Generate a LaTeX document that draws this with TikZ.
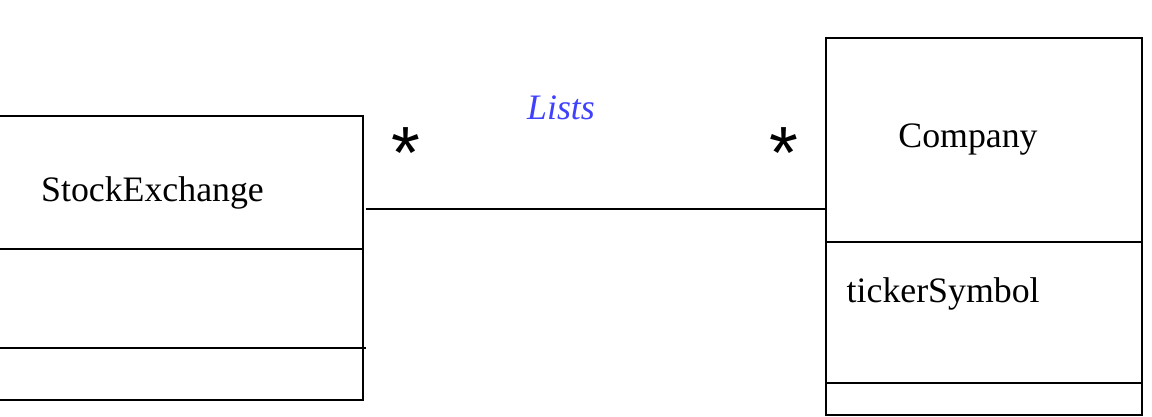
\documentclass[tikz,border=0pt]{standalone}
\usepackage{fontspec}
\setmainfont{Liberation Serif}
\newfontfamily\starfont{Liberation Sans}
\usetikzlibrary{calc}
\definecolor{assocblue}{RGB}{64,64,255}
\begin{document}
\begin{tikzpicture}[x=1pt,y=1pt,
  box/.style={draw=black, line width=1.6pt, inner sep=0pt},
  divider/.style={draw=black, line width=1.6pt},
  assoc/.style={draw=black, line width=1.6pt},
  cls/.style={font=\fontsize{35.8}{42}\selectfont, inner sep=0pt, anchor=base},
  mult/.style={font=\starfont\fontsize{74}{80}\selectfont, inner sep=0pt},
  role/.style={font=\fontsize{35.8}{42}\itshape\selectfont, text=assocblue, inner sep=0pt, anchor=base}]
\useasboundingbox (0,-417) rectangle (1152,0);
% StockExchange class box
\node[box, minimum width=373pt, minimum height=284pt] (se) at (176.5,-258) {};
\draw[divider] (se.west |- 0,-249) -- (se.east |- 0,-249);
\draw[divider] (se.west |- 0,-348) -- (366,-348);
\node[cls] (setxt) at (152.5,-201) {StockExchange};
% Company class box
\node[box, minimum width=316pt, minimum height=377pt] (co) at (984,-226.5) {};
\draw[divider] (co.west |- 0,-242) -- (co.east |- 0,-242);
\draw[divider] (co.west |- 0,-383) -- (co.east |- 0,-383);
\node[cls] (cotxt) at (968,-148) {Company};
\node[cls, anchor=base west] (attr) at (846.5,-302.5) {tickerSymbol};
% association
\coordinate (aL) at (366,-209);
\draw[assoc] (aL) -- (aL -| co.west);
\node[role] (lists) at (561,-120) {Lists};
\node[mult] (m1) at (406,-153) {*};
\node[mult] (m2) at (784,-153) {*};
\end{tikzpicture}
\end{document}
